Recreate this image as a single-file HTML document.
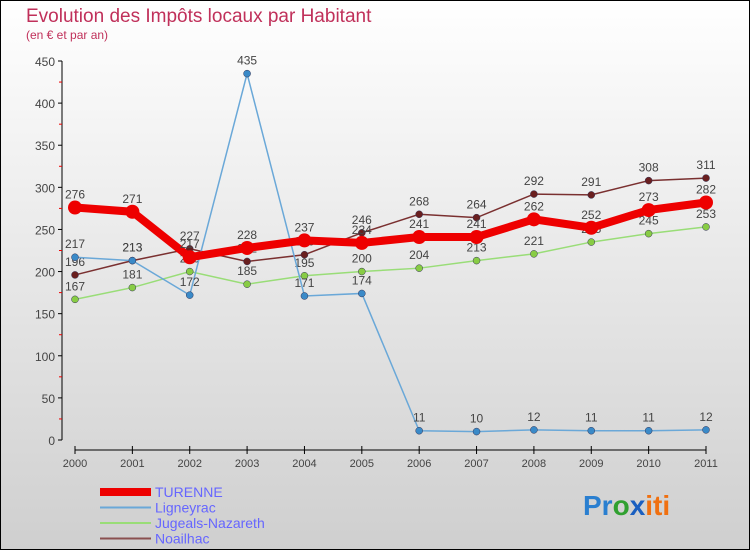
<!DOCTYPE html>
<html><head><meta charset="utf-8"><style>
body{margin:0;}
svg text{font-family:"Liberation Sans",sans-serif;}
</style></head><body>
<svg width="750" height="550" xmlns="http://www.w3.org/2000/svg">
<defs><linearGradient id="bg" x1="0" y1="0" x2="0" y2="1"><stop offset="0" stop-color="#ffffff"/><stop offset="1" stop-color="#cfcfcf"/></linearGradient></defs>
<rect x="0.5" y="0.5" width="749" height="549" fill="url(#bg)" stroke="#000"/>
<text x="26" y="22" font-size="19" fill="#c0305a">Evolution des Impôts locaux par Habitant</text>
<text x="26" y="39" font-size="12" fill="#c0305a">(en € et par an)</text>
<g id="axes"></g>
<g id="series"></g>
<g id="legend"></g>
<text x="583" y="515" font-size="28" font-weight="bold"><tspan fill="#2a7fd0">Pr</tspan><tspan fill="#30a030">o</tspan><tspan fill="#1a5fc0">x</tspan><tspan fill="#f07010">iti</tspan></text>
</svg>
<script>
const years=["2000","2001","2002","2003","2004","2005","2006","2007","2008","2009","2010","2011"];
const yTicks=[0,50,100,150,200,250,300,350,400,450];
const turenne=[276,271,217,228,237,234,241,241,262,252,273,282];
const ligneyrac=[217,213,172,435,171,174,11,10,12,11,11,12];
const jugeals=[167,181,200,185,195,200,204,213,221,235,245,253];
const noailhac=[196,213,227,212,220,246,268,264,292,291,308,311];
const NS="http://www.w3.org/2000/svg";
function X(i){return 75+i*(706-75)/11;}
function Y(v){return 440-v*(379/450);}
function mk(tag,attrs,parent,txt){const e=document.createElementNS(NS,tag);for(const k in attrs)e.setAttribute(k,attrs[k]);if(txt!==undefined)e.textContent=txt;parent.appendChild(e);return e;}
const ax=document.getElementById('axes');
let yl=mk('line',{x1:62,y1:Y(450),x2:62,y2:Y(0),stroke:'#000'},ax);


yTicks.forEach(t=>{
 mk('line',{x1:58,y1:Y(t),x2:62,y2:Y(t),stroke:'#000'},ax);
 if(t<450)mk('line',{x1:59,y1:Y(t+25),x2:62,y2:Y(t+25),stroke:'#e00'},ax);
 let tx=mk('text',{x:55,y:Y(t)+5,'font-size':12,fill:'#444','text-anchor':'end'},ax,String(t));
 
 
});
let xl=mk('line',{x1:X(0),y1:450,x2:X(11),y2:450,stroke:'#000'},ax);


years.forEach((y,i)=>{
 mk('line',{x1:X(i),y1:446,x2:X(i),y2:454,stroke:'#000'},ax);
 let tx=mk('text',{x:X(i),y:467,'font-size':11,fill:'#444','text-anchor':'middle'},ax,y);
 
 
});
const sg=document.getElementById('series');
const series=[
 {name:'noailhac',data:noailhac,color:'#7a3030',w:1.5,r:3.5,fill:'#6a1f1f'},
 {name:'jugeals-nazareth',data:jugeals,color:'#99dd77',w:1.5,r:3.5,fill:'#88cc44'},
 {name:'ligneyrac',data:ligneyrac,color:'#6aa8d8',w:1.5,r:3.5,fill:'#3a8ac8'},
 {name:'turenne',data:turenne,color:'#ee0000',w:8,r:7,fill:'#ee0000'}
];
series.forEach(s=>{
 const g=mk('g',{},sg);
 
 
 let p=mk('polyline',{points:s.data.map((v,i)=>X(i)+','+Y(v)).join(' '),fill:'none',stroke:s.color,'stroke-width':s.w},g);
 
 
 s.data.forEach((v,i)=>{
  let c=mk('circle',{cx:X(i),cy:Y(v),r:s.r,fill:s.fill,stroke:s.w>2?'none':'#335',"stroke-width":0.5},g);
  
  
  let t=mk('text',{x:X(i),y:Y(v)-9,'font-size':12,fill:'#444','text-anchor':'middle'},g,String(v));
  
  
 });
});
const lg=document.getElementById('legend');
const leg=[['TURENNE','#ee0000',8],['Ligneyrac','#6aa8d8',2],['Jugeals-Nazareth','#99dd77',2],['Noailhac','#8a5050',2]];
leg.forEach((l,i)=>{
 const y=492+i*15.5;
 const g=mk('g',{},lg);
 
 
 mk('line',{x1:100,y1:y,x2:151,y2:y,stroke:l[1],'stroke-width':l[2]},g);
 mk('text',{x:155,y:y+5,'font-size':14,fill:'#6666ff'},g,l[0]);
});
</script>
</body></html>
